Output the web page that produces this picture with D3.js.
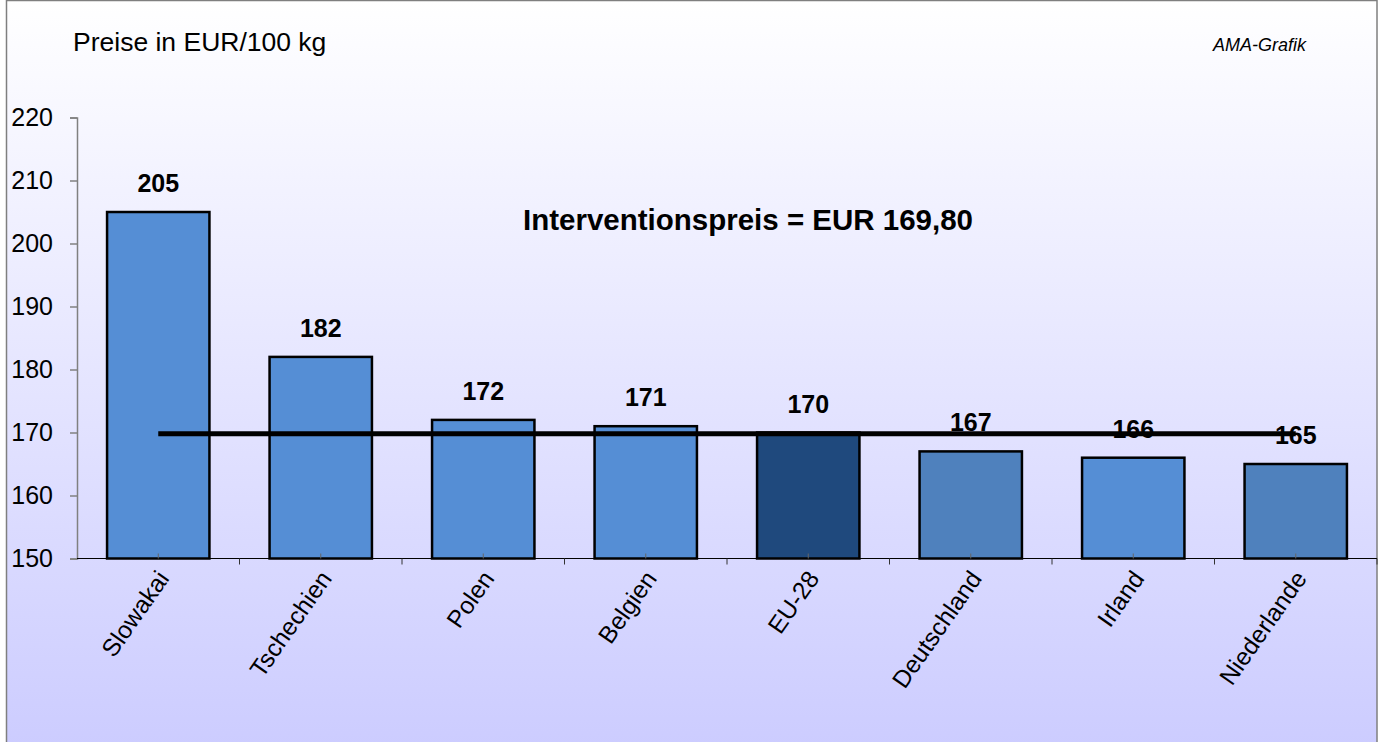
<!DOCTYPE html>
<html><head><meta charset="utf-8">
<script src="https://cdn.jsdelivr.net/npm/d3@7"></script>
<style>html,body{margin:0;padding:0;background:#fff;}svg{display:block;font-family:"Liberation Sans",Arial,sans-serif;}</style>
</head><body>
<script>
const categories = ["Slowakai","Tschechien","Polen","Belgien","EU-28","Deutschland","Irland","Niederlande"];
const prices = [205,182,172,171,170,167,166,165];
const barColors = ["#558ED5","#558ED5","#558ED5","#558ED5","#1F497D","#4F81BD","#558ED5","#4F81BD"];
const interventionPrice = 169.8;
const yTicks = [150,160,170,180,190,200,210,220];
const unitLabel = "Preise in EUR/100 kg";
const sourceLabel = "AMA-Grafik";
const lineLabel = "Interventionspreis = EUR 169,80";

(function(){
const W = 1382, H = 742;
const svg = d3.select("body").append("svg").attr("width", W).attr("height", H);
const defs = svg.append("defs");
const grad = defs.append("linearGradient").attr("id","bg").attr("x1",0).attr("y1",0).attr("x2",0).attr("y2",1);
grad.append("stop").attr("offset","0%").attr("stop-color","#FFFFFF");
grad.append("stop").attr("offset","100%").attr("stop-color","#CCCCFF");

svg.append("rect").attr("x",6.5).attr("y",0.5).attr("width",1370.5).attr("height",H+5)
  .attr("fill","url(#bg)").attr("stroke","#7f7f7f").attr("stroke-width",1.5);

const pl = 77, pr = 1377, pt = 117.5, pb = 558.5;
const x = d3.scaleBand().domain(categories).range([pl, pr]).paddingInner(0.37).paddingOuter(0.185);
const xc = d3.scaleBand().domain(categories).range([pl, pr]);
const y = d3.scaleLinear().domain([150,220]).range([pb, pt]);

// Y axis
const yAxis = svg.append("g").attr("transform",`translate(${pl},0)`)
  .call(d3.axisLeft(y).tickValues(yTicks).tickSize(7).tickPadding(17).tickFormat(d3.format("d")));
yAxis.select(".domain").attr("stroke","#808080").attr("stroke-width",1.5);
yAxis.selectAll(".tick line").attr("stroke","#808080").attr("stroke-width",1.5);
yAxis.selectAll(".tick text").attr("font-size",25).attr("fill","#000").attr("font-family","Liberation Sans, Arial, sans-serif");

// Bars
svg.append("g").selectAll("rect").data(categories).join("rect")
  .attr("x", d => x(d)).attr("width", x.bandwidth())
  .attr("y", (d,i) => y(prices[i])).attr("height", (d,i) => pb - y(prices[i]))
  .attr("fill", (d,i) => barColors[i]).attr("stroke","#000").attr("stroke-width",2.5);

// X axis
const xAxisG = svg.append("g");
xAxisG.append("line").attr("x1",pl).attr("x2",pr).attr("y1",pb).attr("y2",pb).attr("stroke","#000").attr("stroke-width",1.2);
xAxisG.selectAll("line.b").data(categories).join("line").attr("class","b")
  .attr("x1",(d,i)=> pl + xc.step()*(i+1)).attr("x2",(d,i)=> pl + xc.step()*(i+1))
  .attr("y1",pb).attr("y2",pb+6).attr("stroke","#333").attr("stroke-width",1);
xAxisG.selectAll("line.c").data(categories).join("line").attr("class","c")
  .attr("x1",d=> xc(d)+xc.bandwidth()/2).attr("x2",d=> xc(d)+xc.bandwidth()/2)
  .attr("y1",pb).attr("y2",pb-5).attr("stroke","#666").attr("stroke-width",1);
xAxisG.selectAll("text").data(categories).join("text")
  .attr("transform", d => `translate(${xc(d)+xc.bandwidth()/2+12},${pb+20}) rotate(-55)`)
  .attr("text-anchor","end").attr("font-size",24.5).attr("fill","#000").text(d=>d);

// Intervention line
svg.append("line")
  .attr("x1", xc(categories[0]) + xc.bandwidth()/2)
  .attr("x2", xc(categories[categories.length-1]) + xc.bandwidth()/2)
  .attr("y1", y(interventionPrice)).attr("y2", y(interventionPrice))
  .attr("stroke","#000").attr("stroke-width",5);

// Value labels
svg.append("g").selectAll("text").data(categories).join("text")
  .attr("x", d => x(d) + x.bandwidth()/2).attr("y", (d,i) => y(prices[i]) - 20)
  .attr("text-anchor","middle").attr("font-size",25).attr("font-weight","bold").attr("fill","#000")
  .text((d,i) => prices[i]);

// Texts
svg.append("text").attr("x",748).attr("y",230).attr("text-anchor","middle")
  .attr("font-size",29.5).attr("font-weight","bold").text(lineLabel);
svg.append("text").attr("x",73).attr("y",51).attr("font-size",26.5).text(unitLabel);
svg.append("text").attr("x",1306).attr("y",51).attr("text-anchor","end")
  .attr("font-size",18).attr("font-style","italic").text(sourceLabel);
})();
</script>
</body></html>
